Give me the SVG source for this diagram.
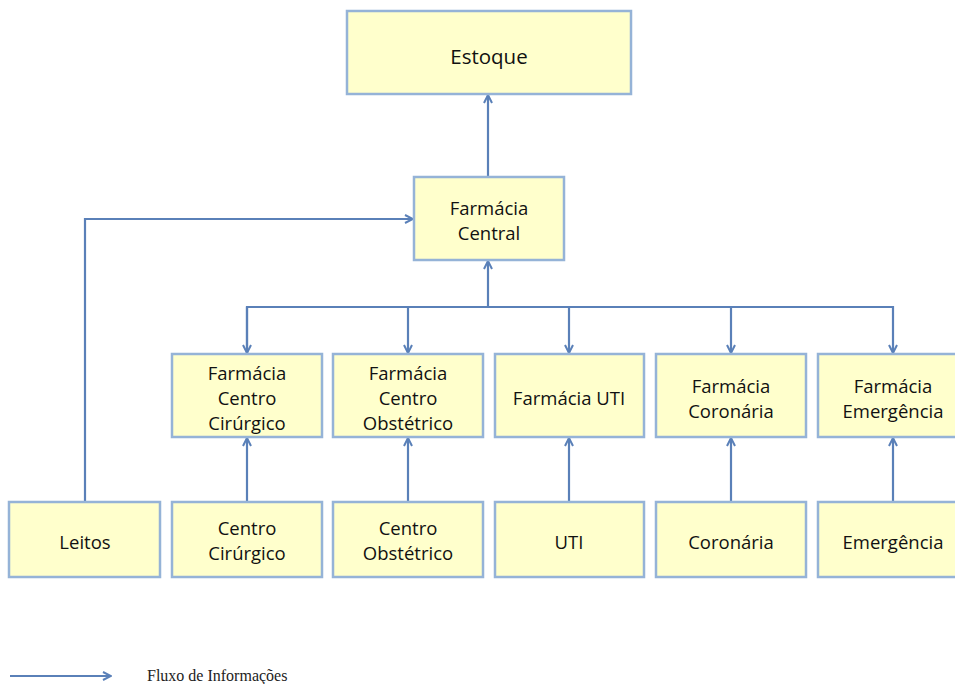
<svg xmlns="http://www.w3.org/2000/svg" width="955" height="684" viewBox="0 0 955 684">
<style>
.box{fill:#FFFFCC;stroke:#95B3D7;stroke-width:2.5}
.t{font-family:"Open Sans","Noto Sans",sans-serif;font-size:18.5px;fill:#111;text-anchor:middle}
.c{fill:none;stroke:#5A80B8;stroke-width:2.2}
.leg{font-family:"Liberation Serif",serif;font-size:16px;fill:#222}
</style>
<defs>
<marker id="a" viewBox="0 0 10 10" refX="9" refY="5" markerWidth="10" markerHeight="10" markerUnits="userSpaceOnUse" orient="auto">
<path d="M1,1 L9,5 L1,9" fill="none" stroke="#5A80B8" stroke-width="2"/>
</marker>
</defs>
<g id="connectors">
<path class="c" d="M488,177 V95" marker-end="url(#a)"/>
<path class="c" d="M85,502 V219 H413" marker-end="url(#a)"/>
<path class="c" d="M488,307 V261" marker-end="url(#a)"/>
<path class="c" d="M247,353 V307 H893 V353" marker-end="url(#a)"/>
<path class="c" d="M247,307 V353" marker-end="url(#a)"/>
<path class="c" d="M408,307 V353" marker-end="url(#a)"/>
<path class="c" d="M569,307 V353" marker-end="url(#a)"/>
<path class="c" d="M731,307 V353" marker-end="url(#a)"/>
<path class="c" d="M247,502 V438" marker-end="url(#a)"/>
<path class="c" d="M408,502 V438" marker-end="url(#a)"/>
<path class="c" d="M569,502 V438" marker-end="url(#a)"/>
<path class="c" d="M731,502 V438" marker-end="url(#a)"/>
<path class="c" d="M893,502 V438" marker-end="url(#a)"/>
</g>
<g id="estoque"><rect class="box" x="347" y="11" width="284" height="83"/><text class="t" x="489" y="64" style="font-size:20.5px">Estoque</text></g>
<g id="farmacia-central"><rect class="box" x="414" y="177" width="150" height="83"/><text class="t" x="489" y="215">Farmácia</text><text class="t" x="489" y="240">Central</text></g>
<g id="farmacia-centro-cirurgico"><rect class="box" x="172" y="354" width="150" height="83"/><text class="t" x="247" y="380">Farmácia</text><text class="t" x="247" y="405">Centro</text><text class="t" x="247" y="430">Cirúrgico</text></g>
<g id="farmacia-centro-obstetrico"><rect class="box" x="333" y="354" width="150" height="83"/><text class="t" x="408" y="380">Farmácia</text><text class="t" x="408" y="405">Centro</text><text class="t" x="408" y="430">Obstétrico</text></g>
<g id="farmacia-uti"><rect class="box" x="495" y="354" width="149" height="83"/><text class="t" x="569" y="405">Farmácia UTI</text></g>
<g id="farmacia-coronaria"><rect class="box" x="656" y="354" width="150" height="83"/><text class="t" x="731" y="393">Farmácia</text><text class="t" x="731" y="418">Coronária</text></g>
<g id="farmacia-emergencia"><rect class="box" x="818" y="354" width="150" height="83"/><text class="t" x="893" y="393">Farmácia</text><text class="t" x="893" y="418">Emergência</text></g>
<g id="leitos"><rect class="box" x="9" y="502" width="151" height="75"/><text class="t" x="85" y="549">Leitos</text></g>
<g id="centro-cirurgico"><rect class="box" x="172" y="502" width="150" height="75"/><text class="t" x="247" y="535">Centro</text><text class="t" x="247" y="560">Cirúrgico</text></g>
<g id="centro-obstetrico"><rect class="box" x="333" y="502" width="150" height="75"/><text class="t" x="408" y="535">Centro</text><text class="t" x="408" y="560">Obstétrico</text></g>
<g id="uti"><rect class="box" x="495" y="502" width="149" height="75"/><text class="t" x="569" y="549">UTI</text></g>
<g id="coronaria"><rect class="box" x="656" y="502" width="150" height="75"/><text class="t" x="731" y="549">Coronária</text></g>
<g id="emergencia"><rect class="box" x="818" y="502" width="150" height="75"/><text class="t" x="893" y="549">Emergência</text></g>
<g id="legend">
<path class="c" d="M10,676 H111" marker-end="url(#a)"/>
<text class="leg" x="147" y="681">Fluxo de Informações</text>
</g>
</svg>
